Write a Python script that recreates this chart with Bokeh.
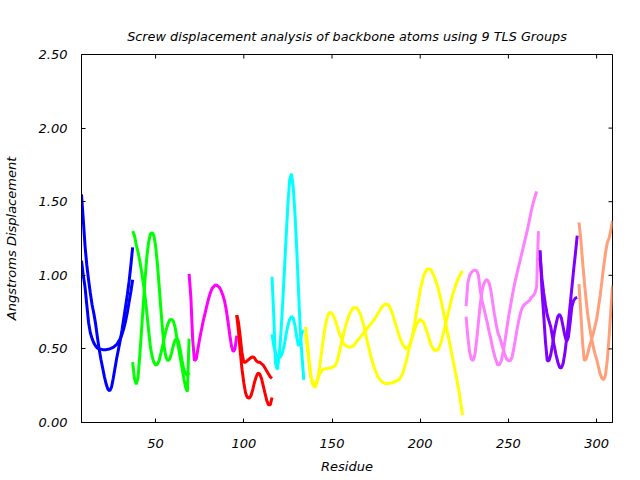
from bokeh.plotting import figure
from bokeh.models import Range1d, FixedTicker, NumeralTickFormatter
from bokeh.embed import file_html
from bokeh.resources import INLINE

# ---------------- data ----------------
x_ticks = [50, 100, 150, 200, 250, 300]
y_ticks = [0.0, 0.5, 1.0, 1.5, 2.0, 2.5]

blue_res = list(range(8, 38))
blue_a = [1.55, 1.38, 1.2, 1.07, 0.97, 0.88, 0.8, 0.74, 0.67, 0.58, 0.5, 0.43, 0.37, 0.31, 0.26,
          0.225, 0.215, 0.24, 0.3, 0.37, 0.44, 0.5, 0.56, 0.63, 0.71, 0.79, 0.87, 0.96, 1.07, 1.19]
blue_b = [1.1, 1.0, 0.92, 0.8, 0.68, 0.61, 0.57, 0.54, 0.52, 0.505, 0.5, 0.497, 0.495, 0.495, 0.495,
          0.497, 0.5, 0.505, 0.51, 0.52, 0.53, 0.55, 0.57, 0.6, 0.64, 0.69, 0.75, 0.82, 0.89, 0.97]

green_res = list(range(37, 70))
green_a = [1.3, 1.27, 1.21, 1.16, 1.1, 1.03, 0.95, 0.86, 0.75, 0.63, 0.52, 0.45, 0.41, 0.39, 0.395,
           0.42, 0.47, 0.52, 0.58, 0.63, 0.67, 0.695, 0.7, 0.69, 0.65, 0.58, 0.51, 0.44, 0.37, 0.3,
           0.24, 0.21, 0.57]
green_b = [0.41, 0.3, 0.26, 0.3, 0.45, 0.62, 0.8, 0.97, 1.12, 1.22, 1.28, 1.29, 1.27, 1.2, 1.08,
           0.93, 0.77, 0.62, 0.5, 0.44, 0.42, 0.43, 0.47, 0.52, 0.56, 0.57, 0.55, 0.49, 0.42, 0.36,
           0.33, 0.32, 0.34]

magenta_res = list(range(69, 97))
magenta_a = [1.01, 0.85, 0.57, 0.42, 0.43, 0.5, 0.57, 0.63, 0.69, 0.74, 0.79, 0.84, 0.88, 0.91,
             0.925, 0.935, 0.93, 0.92, 0.9, 0.87, 0.83, 0.77, 0.69, 0.6, 0.52, 0.48, 0.5, 0.59]

red_res = list(range(96, 117))
red_a = [0.73, 0.68, 0.58, 0.47, 0.41, 0.41, 0.42, 0.43, 0.44, 0.445, 0.44, 0.42, 0.41, 0.41,
         0.4, 0.39, 0.37, 0.35, 0.33, 0.31, 0.3]
red_b = [0.73, 0.62, 0.48, 0.36, 0.27, 0.2, 0.17, 0.165, 0.18, 0.22, 0.27, 0.31, 0.335, 0.33,
         0.3, 0.25, 0.2, 0.15, 0.12, 0.12, 0.17]

cyan_res = list(range(116, 135))
cyan_a = [0.99, 0.72, 0.4, 0.36, 0.45, 0.6, 0.8, 1.03, 1.26, 1.48, 1.65, 1.69, 1.6, 1.42, 1.18,
          0.9, 0.63, 0.45, 0.29]
cyan_b = [0.6, 0.52, 0.47, 0.45, 0.44, 0.45, 0.48, 0.53, 0.6, 0.66, 0.7, 0.72, 0.71, 0.66, 0.58,
          0.52, 0.55, 0.62, 0.62]

yellow_res = list(range(135, 159)) + list(range(160, 225, 2))
yellow_a = [0.65, 0.55, 0.42, 0.32, 0.26, 0.24, 0.25, 0.3, 0.38, 0.47, 0.56, 0.64, 0.7, 0.74,
            0.75, 0.74, 0.72, 0.69, 0.65, 0.61, 0.58, 0.55, 0.53, 0.52,
            0.51, 0.52, 0.55, 0.58, 0.61, 0.64, 0.67, 0.7, 0.74, 0.78, 0.805, 0.8, 0.75, 0.67,
            0.59, 0.53, 0.5, 0.52, 0.61, 0.76, 0.9, 1.0, 1.045, 1.04, 0.99, 0.92, 0.82, 0.7,
            0.58, 0.46, 0.34, 0.21, 0.05]
yellow_b = [0.6, 0.5, 0.4, 0.31, 0.27, 0.26, 0.27, 0.3, 0.33, 0.35, 0.36, 0.365, 0.365, 0.37,
            0.37, 0.375, 0.38, 0.39, 0.42, 0.47, 0.52, 0.57, 0.62, 0.67,
            0.74, 0.78, 0.78, 0.74, 0.66, 0.55, 0.45, 0.37, 0.31, 0.28, 0.265, 0.265, 0.27, 0.28,
            0.29, 0.33, 0.41, 0.52, 0.6, 0.67, 0.7, 0.68, 0.61, 0.53, 0.49, 0.49, 0.55, 0.65,
            0.75, 0.85, 0.93, 0.99, 1.03]

pink_res_a = list(range(226, 267))
pink_a = [0.79, 0.95, 1.0, 1.02, 1.03, 1.035, 1.03, 1.0, 0.9, 0.83, 0.78, 0.73, 0.68, 0.62, 0.57,
          0.51, 0.46, 0.42, 0.39, 0.395, 0.42, 0.48, 0.55, 0.63, 0.71, 0.78, 0.85, 0.91, 0.97,
          1.02, 1.07, 1.12, 1.17, 1.22, 1.27, 1.32, 1.38, 1.44, 1.49, 1.53, 1.57]
pink_res_b = list(range(226, 268))
pink_b = [0.72, 0.58, 0.48, 0.43, 0.42, 0.46, 0.56, 0.68, 0.8, 0.89, 0.94, 0.965, 0.97, 0.95,
          0.9, 0.82, 0.74, 0.67, 0.61, 0.58, 0.54, 0.5, 0.46, 0.43, 0.42, 0.42, 0.44, 0.5, 0.57,
          0.64, 0.7, 0.75, 0.785, 0.8, 0.81, 0.82, 0.83, 0.85, 0.86, 0.88, 0.92, 1.3]

purple_res = list(range(268, 290))
purple_a = [1.17, 0.9, 0.73, 0.55, 0.42, 0.42, 0.46, 0.53, 0.61, 0.67, 0.72, 0.735, 0.71, 0.65,
            0.59, 0.55, 0.58, 0.68, 0.79, 0.83, 0.845, 0.85]
purple_b = [1.12, 0.98, 0.88, 0.8, 0.73, 0.69, 0.65, 0.58, 0.52, 0.46, 0.41, 0.375, 0.37, 0.4,
            0.47, 0.57, 0.68, 0.8, 0.92, 1.04, 1.15, 1.27]

salmon_res = list(range(290, 310))
salmon_a = [1.36, 1.25, 1.1, 0.96, 0.84, 0.73, 0.65, 0.58, 0.52, 0.47, 0.43, 0.38, 0.33, 0.3,
            0.29, 0.32, 0.42, 0.57, 0.75, 0.93]
salmon_b = [0.94, 0.75, 0.55, 0.42, 0.43, 0.47, 0.52, 0.56, 0.6, 0.65, 0.7, 0.78, 0.86, 0.96,
            1.06, 1.15, 1.22, 1.25, 1.3, 1.37]

series = [
    (blue_res, blue_a, "#0000ff"), (blue_res, blue_b, "#0000ff"),
    (green_res, green_a, "#00ff00"), (green_res, green_b, "#00ff00"),
    (magenta_res, magenta_a, "#ff00ff"),
    (red_res, red_a, "#ff0000"), (red_res, red_b, "#ff0000"),
    (cyan_res, cyan_a, "#00ffff"), (cyan_res, cyan_b, "#00ffff"),
    (yellow_res, yellow_a, "#ffff00"), (yellow_res, yellow_b, "#ffff00"),
    (pink_res_a, pink_a, "#ff80ff"), (pink_res_b, pink_b, "#ff80ff"),
    (purple_res, purple_a, "#8000ff"), (purple_res, purple_b, "#8000ff"),
    (salmon_res, salmon_a, "#ffa07a"), (salmon_res, salmon_b, "#ffa07a"),
]

FONT = "DejaVu Sans"
FS = "13px"

x_range = Range1d(8, 309)
y_range = Range1d(0, 2.5)

p = figure(width=640, height=480, output_backend="svg", toolbar_location=None,
           x_range=x_range, y_range=y_range,
           title="Screw displacement analysis of backbone atoms using 9 TLS Groups",
           min_border_left=77, min_border_right=28, min_border_top=54, min_border_bottom=58)

p.title.text_font = FONT
p.title.text_font_size = "12.8px"
p.title.text_font_style = "italic"
p.title.align = "center"
p.title.text_color = "black"
p.title.standoff = 22

p.xgrid.visible = False
p.ygrid.visible = False
p.outline_line_color = "black"
p.outline_line_width = 1
p.background_fill_color = "white"
p.border_fill_color = "white"

for res, vals, col in series:
    p.line(res, vals, line_color=col, line_width=3)

# mirrored tick marks on the top and right edges of the frame
p.ray(x=x_ticks, y=[y_range.end] * len(x_ticks), length=4, length_units="screen",
      angle=-90, angle_units="deg", line_color="black", line_width=1)
p.ray(x=[x_range.end] * len(y_ticks), y=y_ticks, length=4, length_units="screen",
      angle=180, angle_units="deg", line_color="black", line_width=1)

def style(ax, ticks):
    ax.ticker = FixedTicker(ticks=ticks)
    ax.minor_tick_line_color = None
    ax.major_tick_in = 4
    ax.major_tick_out = 0
    ax.axis_line_color = "black"
    ax.major_tick_line_color = "black"
    ax.major_label_text_font = FONT
    ax.major_label_text_font_size = FS
    ax.major_label_text_font_style = "italic"
    ax.major_label_text_color = "black"
    ax.axis_label_text_font = FONT
    ax.axis_label_text_font_size = FS
    ax.axis_label_text_font_style = "italic"
    ax.axis_label_text_color = "black"

xa = p.xaxis[0]
style(xa, x_ticks)
xa.axis_label = "Residue"
xa.major_label_standoff = 16
xa.axis_label_standoff = 8

ya = p.yaxis[0]
style(ya, y_ticks)
ya.formatter = NumeralTickFormatter(format="0.00")
ya.axis_label = "Angstroms Displacement"
ya.major_label_standoff = 14
ya.axis_label_standoff = 17

open("out.html", "w").write(file_html(p, INLINE))
